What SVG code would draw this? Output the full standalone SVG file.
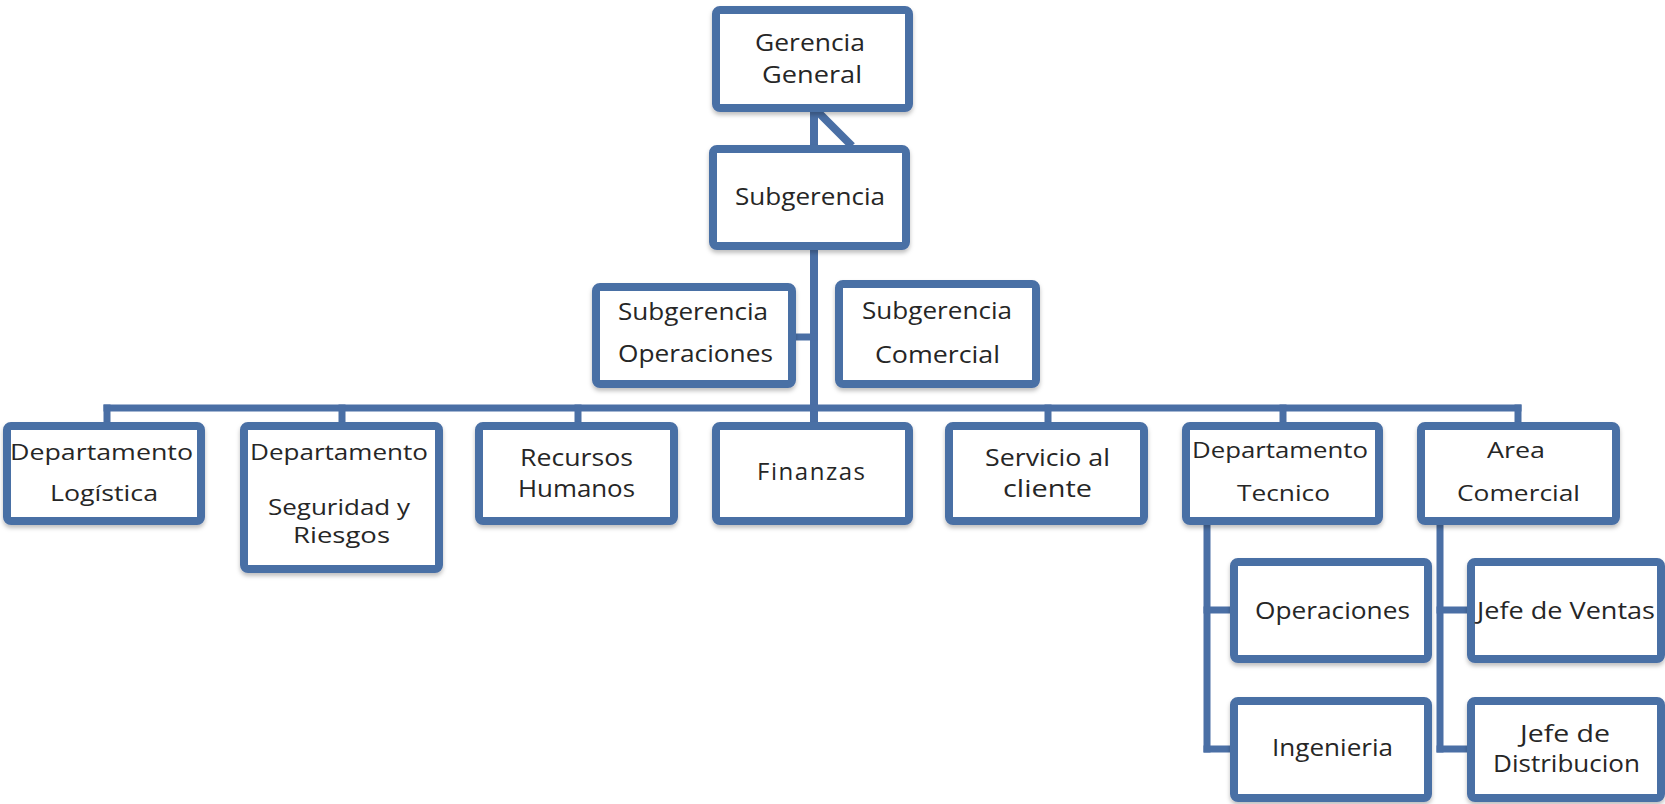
<svg xmlns="http://www.w3.org/2000/svg" width="1665" height="804" viewBox="0 0 1665 804">
<style>
.box{fill:#ffffff;stroke:#4a6fa5;stroke-width:8;filter:url(#sh)}
.ln{stroke:#4a6fa5;stroke-width:7;fill:none;stroke-linecap:square}
text{font-family:"Open Sans","Liberation Sans",sans-serif;fill:#262626}
.s{font-size:22px}
.m{font-size:24px}
</style>
<defs>
<filter id="sh" x="-10%" y="-10%" width="120%" height="130%">
<feDropShadow dx="0" dy="3" stdDeviation="2" flood-color="#000" flood-opacity="0.25"/>
</filter>
</defs>
<rect width="1665" height="804" fill="#ffffff"/>
<g id="connectors">
<line class="ln" x1="814" y1="110" x2="814" y2="147" style="stroke-width:8"/>
<line class="ln" x1="817" y1="111" x2="852" y2="146" style="stroke-width:8;stroke-linecap:butt"/>
<line class="ln" x1="814" y1="248" x2="814" y2="424" style="stroke-width:8"/>
<line class="ln" x1="794" y1="337" x2="814" y2="337"/>
<line class="ln" x1="107" y1="408" x2="1518" y2="408"/>
<line class="ln" x1="107" y1="408" x2="107" y2="424"/>
<line class="ln" x1="342" y1="408" x2="342" y2="424"/>
<line class="ln" x1="578" y1="408" x2="578" y2="424"/>
<line class="ln" x1="1048" y1="408" x2="1048" y2="424"/>
<line class="ln" x1="1283" y1="408" x2="1283" y2="424"/>
<line class="ln" x1="1518" y1="408" x2="1518" y2="424"/>
<line class="ln" x1="1207" y1="523" x2="1207" y2="749"/>
<line class="ln" x1="1207" y1="610" x2="1232" y2="610"/>
<line class="ln" x1="1207" y1="749" x2="1232" y2="749"/>
<line class="ln" x1="1440" y1="523" x2="1440" y2="749"/>
<line class="ln" x1="1440" y1="610" x2="1469" y2="610"/>
<line class="ln" x1="1440" y1="749" x2="1469" y2="749"/>
</g>
<g id="gerencia-general">
<rect class="box" x="716" y="10" width="193" height="98" rx="4"/>
<text class="m" x="755" y="51" textLength="110" lengthAdjust="spacingAndGlyphs">Gerencia</text>
<text class="m" x="762" y="83" textLength="100" lengthAdjust="spacingAndGlyphs">General</text>
</g>
<g id="subgerencia">
<rect class="box" x="713" y="149" width="193" height="97" rx="4"/>
<text class="m" x="735" y="205" textLength="150" lengthAdjust="spacingAndGlyphs">Subgerencia</text>
</g>
<g id="subgerencia-operaciones">
<rect class="box" x="596" y="287" width="196" height="97" rx="4"/>
<text class="m" x="618" y="320" textLength="150" lengthAdjust="spacingAndGlyphs">Subgerencia</text>
<text class="m" x="618" y="362" textLength="155" lengthAdjust="spacingAndGlyphs">Operaciones</text>
</g>
<g id="subgerencia-comercial">
<rect class="box" x="839" y="284" width="197" height="100" rx="4"/>
<text class="m" x="862" y="319" textLength="150" lengthAdjust="spacingAndGlyphs">Subgerencia</text>
<text class="m" x="875" y="363" textLength="125" lengthAdjust="spacingAndGlyphs">Comercial</text>
</g>
<g id="departamento-logistica">
<rect class="box" x="7" y="426" width="194" height="95" rx="4"/>
<text class="s" x="10" y="460" textLength="183" lengthAdjust="spacingAndGlyphs">Departamento</text>
<text class="s" x="50" y="501" textLength="108" lengthAdjust="spacingAndGlyphs">Logística</text>
</g>
<g id="departamento-seguridad">
<rect class="box" x="244" y="426" width="195" height="143" rx="4"/>
<text class="s" x="250" y="460" textLength="178" lengthAdjust="spacingAndGlyphs">Departamento</text>
<text class="s" x="268" y="515" textLength="142" lengthAdjust="spacingAndGlyphs">Seguridad y</text>
<text class="s" x="293" y="543" textLength="97" lengthAdjust="spacingAndGlyphs">Riesgos</text>
</g>
<g id="recursos-humanos">
<rect class="box" x="479" y="426" width="195" height="95" rx="4"/>
<text class="m" x="520" y="466" textLength="113" lengthAdjust="spacingAndGlyphs">Recursos</text>
<text class="m" x="518" y="497" textLength="117" lengthAdjust="spacingAndGlyphs">Humanos</text>
</g>
<g id="finanzas">
<rect class="box" x="716" y="426" width="193" height="95" rx="4"/>
<text class="m" x="757" y="480" textLength="108">Finanzas</text>
</g>
<g id="servicio-cliente">
<rect class="box" x="949" y="426" width="195" height="95" rx="4"/>
<text class="m" x="985" y="466" textLength="125" lengthAdjust="spacingAndGlyphs">Servicio al</text>
<text class="m" x="1003" y="497" textLength="89" lengthAdjust="spacingAndGlyphs">cliente</text>
</g>
<g id="departamento-tecnico">
<rect class="box" x="1186" y="426" width="193" height="95" rx="4"/>
<text class="s" x="1192" y="458" textLength="176" lengthAdjust="spacingAndGlyphs">Departamento</text>
<text class="s" x="1237" y="501" textLength="93" lengthAdjust="spacingAndGlyphs">Tecnico</text>
</g>
<g id="area-comercial">
<rect class="box" x="1421" y="426" width="195" height="95" rx="4"/>
<text class="s" x="1487" y="458" textLength="58" lengthAdjust="spacingAndGlyphs">Area</text>
<text class="s" x="1457" y="501" textLength="123" lengthAdjust="spacingAndGlyphs">Comercial</text>
</g>
<g id="operaciones">
<rect class="box" x="1234" y="562" width="194" height="97" rx="4"/>
<text class="m" x="1255" y="619" textLength="155" lengthAdjust="spacingAndGlyphs">Operaciones</text>
</g>
<g id="ingenieria">
<rect class="box" x="1234" y="701" width="194" height="97" rx="4"/>
<text class="m" x="1272" y="756" textLength="121" lengthAdjust="spacingAndGlyphs">Ingenieria</text>
</g>
<g id="jefe-ventas">
<rect class="box" x="1471" y="562" width="190" height="97" rx="4"/>
<text class="m" x="1477" y="619" textLength="178" lengthAdjust="spacingAndGlyphs">Jefe de Ventas</text>
</g>
<g id="jefe-distribucion">
<rect class="box" x="1471" y="701" width="190" height="97" rx="4"/>
<text class="m" x="1520" y="742" textLength="90" lengthAdjust="spacingAndGlyphs">Jefe de</text>
<text class="m" x="1493" y="772" textLength="147" lengthAdjust="spacingAndGlyphs">Distribucion</text>
</g>
</svg>
